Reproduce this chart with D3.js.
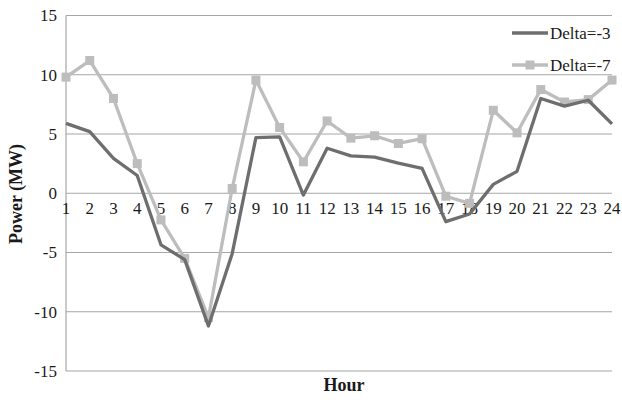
<!DOCTYPE html>
<html><head><meta charset="utf-8">
<script src="https://cdn.jsdelivr.net/npm/d3@7"></script>
<style>body{margin:0;background:#fff}svg{display:block}</style>
</head><body><svg id="c" width="622" height="400" font-family="Liberation Serif, serif"></svg>
<script>
const hours = d3.range(1, 25);
const delta3 = [5.9,5.2,2.95,1.5,-4.35,-5.6,-11.2,-5.1,4.7,4.75,-0.15,3.8,3.15,3.05,2.55,2.1,-2.4,-1.75,0.75,1.85,8.0,7.35,7.85,5.85];
const delta7 = [9.8,11.2,8.0,2.5,-2.25,-5.5,-10.5,0.4,9.55,5.55,2.65,6.1,4.65,4.85,4.2,4.6,-0.25,-0.85,7.0,5.1,8.75,7.7,7.9,9.55];
const yTicks = [-15,-10,-5,0,5,10,15];
const seriesNames = ["Delta=-3","Delta=-7"];
const colors = ["#6e6e6e","#bdbdbd"];

const svg = d3.select("#c");
const x = d3.scalePoint().domain(hours).range([66, 612]);
const y = d3.scaleLinear().domain([-15, 15]).range([371, 15.5]);

svg.append("g").selectAll("line").data(yTicks).join("line")
  .attr("x1", 66).attr("x2", 612).attr("y1", d => y(d)).attr("y2", d => y(d))
  .attr("stroke", "#a6a6a6").attr("stroke-width", 1.2);
svg.append("line").attr("x1", 66).attr("x2", 66).attr("y1", y(15)).attr("y2", y(-15))
  .attr("stroke", "#a6a6a6").attr("stroke-width", 1.2);

svg.append("g").selectAll("text").data(yTicks).join("text")
  .attr("x", 57).attr("y", d => y(d)).attr("dy", "0.35em").attr("fill", "#1a1a1a")
  .attr("text-anchor", "end").attr("font-size", 17).text(d => d);

svg.append("g").selectAll("text").data(hours).join("text")
  .attr("x", d => x(d)).attr("y", 214).attr("fill", "#1a1a1a")
  .attr("text-anchor", "middle").attr("font-size", 17).text(d => d);

const line = d3.line().x((d, i) => x(hours[i])).y(d => y(d));
svg.append("path").datum(delta7).attr("d", line).attr("fill", "none")
  .attr("stroke", colors[1]).attr("stroke-width", 3.3).attr("stroke-linejoin", "round");
svg.append("g").selectAll("rect").data(delta7).join("rect")
  .attr("x", (d, i) => x(hours[i]) - 4.5).attr("y", d => y(d) - 4.5)
  .attr("width", 9).attr("height", 9).attr("fill", colors[1]);
svg.append("path").datum(delta3).attr("d", line).attr("fill", "none")
  .attr("stroke", colors[0]).attr("stroke-width", 3.3).attr("stroke-linejoin", "round");

const leg = svg.append("g");
[0, 1].forEach(i => {
  const ly = 33 + i * 32;
  leg.append("line").attr("x1", 512).attr("x2", 548).attr("y1", ly).attr("y2", ly)
    .attr("stroke", colors[i]).attr("stroke-width", 3.3);
  if (i === 1) leg.append("rect").attr("x", 525.5).attr("y", ly - 4.5).attr("width", 9).attr("height", 9).attr("fill", colors[1]);
  leg.append("text").attr("x", 550).attr("y", ly).attr("dy", "0.35em").attr("fill", "#1a1a1a")
    .attr("font-size", 17).text(seriesNames[i]);
});

svg.append("text").attr("transform", "translate(22,194) rotate(-90)").attr("fill", "#1a1a1a")
  .attr("text-anchor", "middle").attr("font-size", 18).attr("font-weight", "bold").text("Power (MW)");
svg.append("text").attr("x", 344).attr("y", 391).attr("text-anchor", "middle").attr("fill", "#1a1a1a")
  .attr("font-size", 18).attr("font-weight", "bold").text("Hour");
</script></body></html>
